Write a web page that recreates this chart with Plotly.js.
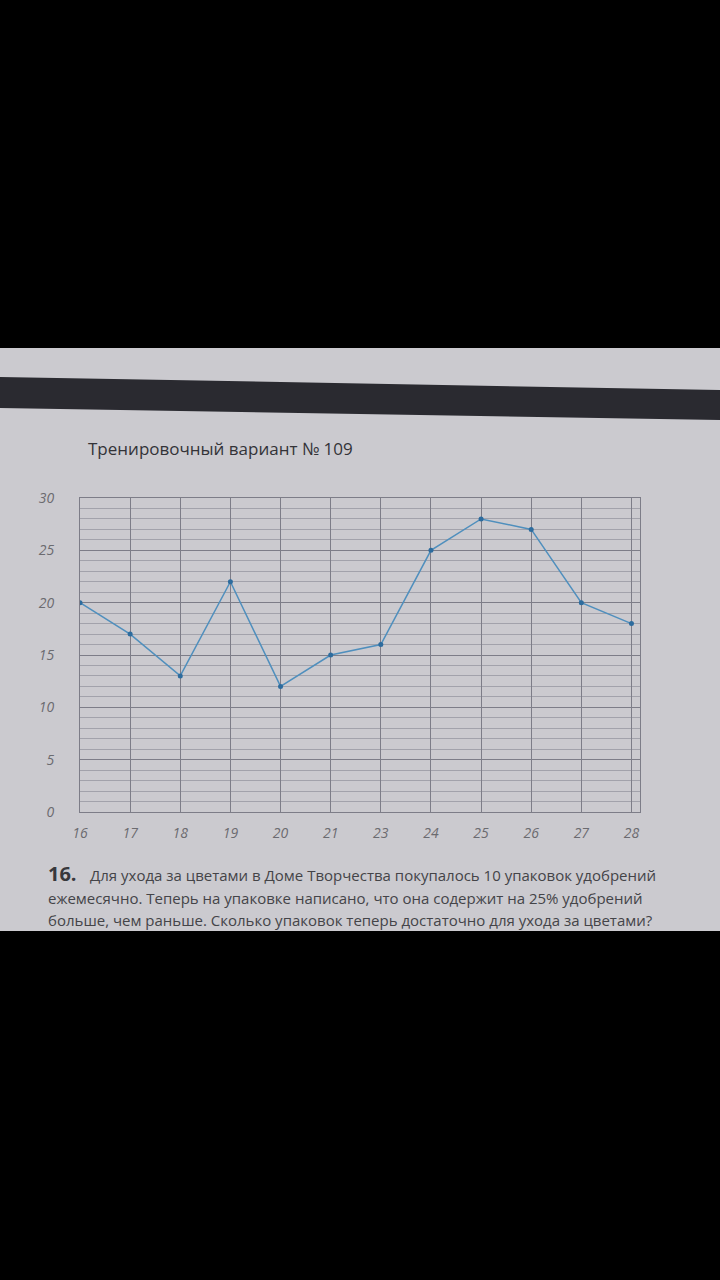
<!DOCTYPE html>
<html>
<head>
<meta charset="utf-8">
<script src="https://cdn.plot.ly/plotly-3.0.1.min.js"></script>
<style>
html,body{margin:0;padding:0;background:#000;}
#chart{width:720px;height:1280px;}
</style>
</head>
<body>
<div id="chart"></div>
<script>
// Data
const days = ['16','17','18','19','20','21','23','24','25','26','27','28'];
const values = [20, 17, 13, 22, 12, 15, 16, 25, 28, 27, 20, 18];
const yTicks = [0, 5, 10, 15, 20, 25, 30];

const titleText = 'Тренировочный вариант № 109';
const qNumber = '16.';
const qLine1 = 'Для ухода за цветами в Доме Творчества покупалось 10 упаковок удобрений';
const qLine2 = 'ежемесячно. Теперь на упаковке написано, что она содержит на 25% удобрений';
const qLine3 = 'больше, чем раньше. Сколько упаковок теперь достаточно для ухода за цветами?';

// page geometry (pixels)
const W = 720, H = 1280;
const L = 80, R = 640, T = 498, B = 812;
const px = x => (x - L) / (R - L);
const py = y => (B - y) / (B - T);

const screenColor = '#cbcacf';

const trace = {
  x: days,
  y: values,
  type: 'scatter',
  mode: 'lines+markers',
  line: {color: '#4f8fbd', width: 1.5},
  marker: {color: '#2d6c9e', size: 5},
  hoverinfo: 'skip'
};

const tickFont = {family: 'Open Sans, sans-serif', size: 14, color: '#6b6b70', style: 'italic'};

const layout = {
  width: W, height: H,
  margin: {l: L, r: W - R, t: T, b: H - B, pad: 0},
  paper_bgcolor: '#000000',
  plot_bgcolor: 'rgba(0,0,0,0)',
  showlegend: false,
  xaxis: {
    type: 'category',
    range: [0, 11.17],
    showgrid: true,
    gridcolor: '#7d7d88',
    gridwidth: 1,
    showline: true, mirror: true, linecolor: '#7d7d88', linewidth: 1,
    ticks: '',
    tickfont: tickFont,
    ticklabelstandoff: 8,
    fixedrange: true
  },
  yaxis: {
    range: [0, 30],
    tickvals: yTicks,
    ticktext: yTicks.map(String),
    showgrid: true,
    gridcolor: '#7d7d88',
    gridwidth: 1,
    zeroline: true, zerolinecolor: '#7d7d88', zerolinewidth: 1,
    minor: {dtick: 1, showgrid: true, gridcolor: '#a2a2ab', gridwidth: 1},
    showline: true, mirror: true, linecolor: '#7d7d88', linewidth: 1,
    ticks: '',
    tickfont: tickFont,
    ticklabelstandoff: 22,
    fixedrange: true
  },
  shapes: [
    {type: 'rect', xref: 'paper', yref: 'paper', layer: 'below',
     x0: px(0), x1: px(W), y0: py(348), y1: py(931),
     fillcolor: screenColor, line: {width: 0}},
    {type: 'path', xref: 'paper', yref: 'paper', layer: 'below',
     path: 'M ' + px(0) + ' ' + py(377) + ' L ' + px(W) + ' ' + py(390) +
           ' L ' + px(W) + ' ' + py(420) + ' L ' + px(0) + ' ' + py(408) + ' Z',
     fillcolor: '#2a2a30', line: {width: 0}}
  ],
  annotations: [
    {xref: 'paper', yref: 'paper', x: px(86), y: py(448), xanchor: 'left', yanchor: 'middle',
     text: titleText, showarrow: false,
     font: {family: 'Open Sans, sans-serif', size: 17, color: '#333338'}},
    {xref: 'paper', yref: 'paper', x: px(46), y: py(873), xanchor: 'left', yanchor: 'middle',
     text: '<b>' + qNumber + '</b>', showarrow: false,
     font: {family: 'Open Sans, sans-serif', size: 20, color: '#38383c'}},
    {xref: 'paper', yref: 'paper', x: px(88), y: py(875), xanchor: 'left', yanchor: 'middle',
     text: qLine1, showarrow: false,
     font: {family: 'Open Sans, sans-serif', size: 15, color: '#444448'}},
    {xref: 'paper', yref: 'paper', x: px(46), y: py(898), xanchor: 'left', yanchor: 'middle',
     text: qLine2, showarrow: false,
     font: {family: 'Open Sans, sans-serif', size: 15, color: '#444448'}},
    {xref: 'paper', yref: 'paper', x: px(46), y: py(920), xanchor: 'left', yanchor: 'middle',
     text: qLine3, showarrow: false,
     font: {family: 'Open Sans, sans-serif', size: 15, color: '#444448'}}
  ]
};

Plotly.newPlot('chart', [trace], layout, {displayModeBar: false, staticPlot: true});
</script>
</body>
</html>
